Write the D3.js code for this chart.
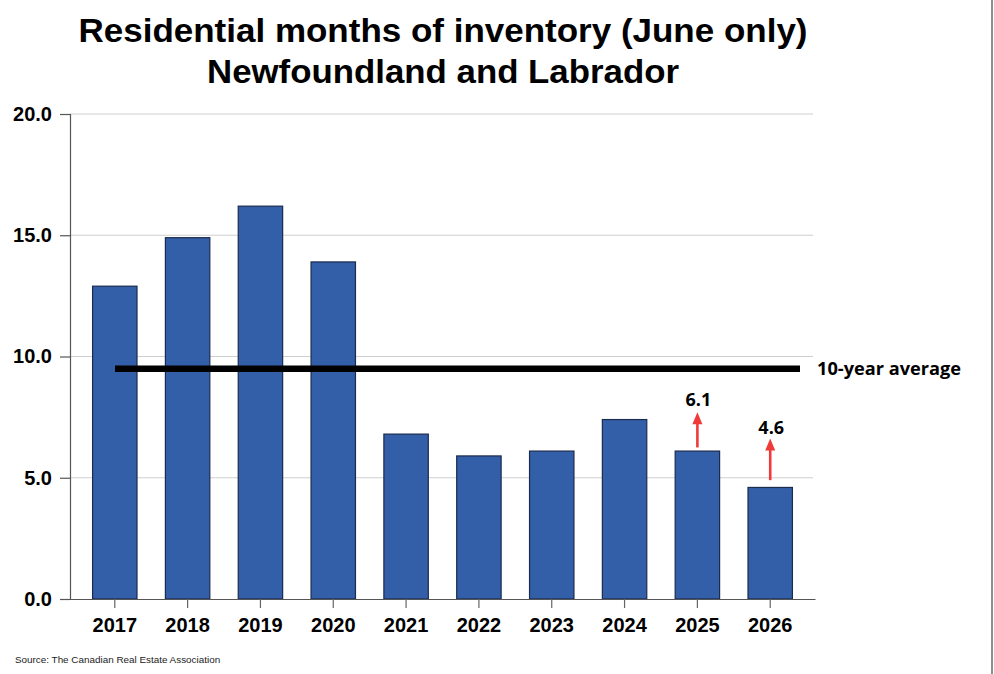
<!DOCTYPE html>
<html>
<head>
<meta charset="utf-8">
<script src="https://cdn.jsdelivr.net/npm/d3@7"></script>
<style>
  html, body { margin: 0; padding: 0; background: #fff; }
  svg { display: block; }
</style>
</head>
<body>
<svg id="chart" width="994" height="674"></svg>
<script>
const years = ["2017","2018","2019","2020","2021","2022","2023","2024","2025","2026"];
const inventory = [12.9, 14.9, 16.2, 13.9, 6.8, 5.9, 6.1, 7.4, 6.1, 4.6];
const tenYearAverage = 9.5;
const yTicks = [0, 5, 10, 15, 20];
const annotations = [
  { year: "2025", label: "6.1", from: 6.25, to: 7.7, labelAt: 7.96 },
  { year: "2026", label: "4.6", from: 4.9, to: 6.62, labelAt: 6.8 }
];
const titleLines = ["Residential months of inventory (June only)", "Newfoundland and Labrador"];
const sourceText = "Source: The Canadian Real Estate Association";

(function () {
const svg = d3.select("#chart");
const W = 994, H = 674;
const mLeft = 70, mRight = 815, mTop = 114, mBottom = 599;

const x = d3.scaleBand().domain(years).range([mLeft, mRight]).paddingInner(0.39).paddingOuter(0.31);
const y = d3.scaleLinear().domain([0, 20]).range([mBottom, mTop]);

// right border
svg.append("line").attr("x1", 992).attr("x2", 992).attr("y1", 0).attr("y2", H)
  .attr("stroke", "#444").attr("stroke-width", 1.2);

// title
const titleWidths = [729, 472];
svg.append("g").selectAll("text").data(titleLines).join("text")
  .attr("x", 443).attr("y", (d, i) => 42 + i * 41)
  .attr("text-anchor", "middle")
  .attr("font-family", "Liberation Sans, Arial, sans-serif")
  .attr("font-weight", "bold").attr("font-size", 33)
  .attr("textLength", (d, i) => titleWidths[i])
  .attr("lengthAdjust", "spacingAndGlyphs")
  .attr("fill", "#000").text(d => d);

// gridlines
svg.append("g").selectAll("line").data(yTicks.filter(d => d > 0)).join("line")
  .attr("x1", mLeft).attr("x2", 813)
  .attr("y1", d => y(d)).attr("y2", d => y(d))
  .attr("stroke", "#cfcfcf").attr("stroke-width", 1);

// bars
svg.append("g").selectAll("rect").data(years).join("rect")
  .attr("x", d => x(d)).attr("width", x.bandwidth())
  .attr("y", (d, i) => y(inventory[i]))
  .attr("height", (d, i) => y(0) - y(inventory[i]))
  .attr("fill", "#335ea8").attr("stroke", "#1b2b4d").attr("stroke-width", 1.2);

// y axis
const yAxis = d3.axisLeft(y).tickValues(yTicks).tickFormat(d3.format(".1f")).tickSize(10).tickPadding(8);
const gy = svg.append("g").attr("transform", `translate(${mLeft},0)`).call(yAxis);
gy.select(".domain").attr("stroke", "#555").attr("stroke-width", 1.2);
gy.selectAll(".tick line").attr("stroke", "#555").attr("stroke-width", 1.2);
gy.selectAll(".tick text").attr("font-family", "Liberation Sans, Arial, sans-serif")
  .attr("font-weight", "bold").attr("font-size", 20).attr("fill", "#000");

// x axis
const xAxis = d3.axisBottom(x).tickSize(9).tickPadding(10).tickSizeOuter(0);
const gx = svg.append("g").attr("transform", `translate(0,${mBottom})`).call(xAxis);
gx.select(".domain").attr("stroke", "#555").attr("stroke-width", 1.2);
gx.selectAll(".tick line").attr("stroke", "#666").attr("stroke-width", 1.2);
gx.selectAll(".tick text").attr("font-family", "Liberation Sans, Arial, sans-serif")
  .attr("font-weight", "bold").attr("font-size", 20).attr("fill", "#000");

// average line
svg.append("line")
  .attr("x1", 115).attr("x2", 800)
  .attr("y1", y(tenYearAverage)).attr("y2", y(tenYearAverage))
  .attr("stroke", "#000").attr("stroke-width", 6.5);
svg.append("text").attr("x", 817).attr("y", y(tenYearAverage) + 6.5)
  .attr("font-family", "Open Sans, sans-serif").attr("font-weight", "bold")
  .attr("font-size", 18.2).attr("fill", "#000").text("10-year average");

// arrows and labels
const ag = svg.append("g");
annotations.forEach(a => {
  const cx = x(a.year) + x.bandwidth() / 2;
  ag.append("line").attr("x1", cx).attr("x2", cx)
    .attr("y1", y(a.from)).attr("y2", y(a.to) + 8)
    .attr("stroke", "#f03a3a").attr("stroke-width", 2.6);
  ag.append("path")
    .attr("d", `M${cx - 5},${y(a.to) + 12} L${cx},${y(a.to)} L${cx + 5},${y(a.to) + 12} Z`)
    .attr("fill", "#f03a3a");
  ag.append("text").attr("x", cx + 1).attr("y", y(a.labelAt))
    .attr("text-anchor", "middle")
    .attr("font-family", "Open Sans, sans-serif").attr("font-weight", "bold")
    .attr("font-size", 18).attr("fill", "#000").text(a.label);
});

// source
svg.append("text").attr("x", 15).attr("y", 663)
  .attr("font-family", "Liberation Sans, Arial, sans-serif")
  .attr("font-size", 9.9).attr("fill", "#222").text(sourceText);
})();
</script>
</body>
</html>
